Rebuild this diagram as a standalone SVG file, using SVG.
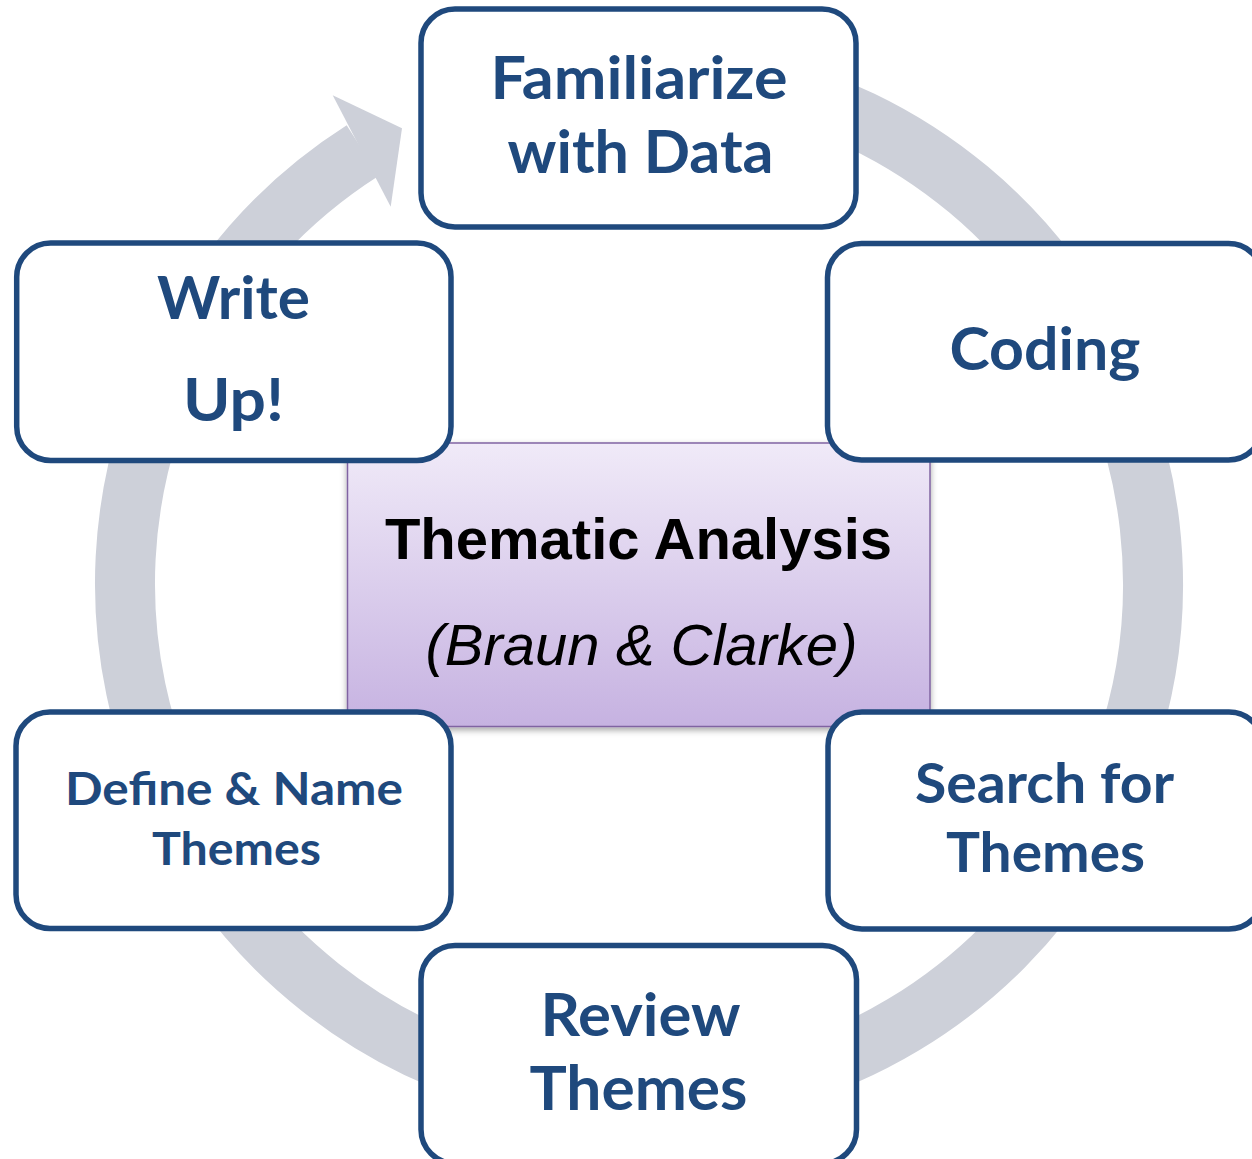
<svg xmlns="http://www.w3.org/2000/svg" width="1252" height="1159" viewBox="0 0 1252 1159">
  <style>
    .box { fill: #ffffff; stroke: #1f497d; stroke-width: 5.5; }
    .lbl { font-family: Lato, "Open Sans", "Liberation Sans", sans-serif; font-weight: bold; fill: #1f497d; text-anchor: middle; }
    .ctr { font-family: "Liberation Sans", Arial, sans-serif; fill: #000000; text-anchor: middle; font-size: 58px; }
  </style>
  <defs>
    <linearGradient id="purple" x1="0" y1="0" x2="0" y2="1">
      <stop offset="0" stop-color="#f0eaf8"/>
      <stop offset="1" stop-color="#c6b2e1"/>
    </linearGradient>
    <filter id="shadow" x="-5%" y="-5%" width="110%" height="115%">
      <feDropShadow dx="0" dy="3" stdDeviation="3" flood-color="#000000" flood-opacity="0.35"/>
    </filter>
  </defs>

  <g id="connectors">
    <path d="M 639 70 A 514 514 0 1 1 362.8 150.5" fill="none" stroke="#cdd0d9" stroke-width="60"/>
    <polygon points="332.7,95.3 402,128.3 390.7,206.7" fill="#cdd0d9"/>
  </g>

  <g id="center">
    <rect x="347.5" y="443" width="582.5" height="283.5" fill="url(#purple)" stroke="#8064a2" stroke-width="1.5" filter="url(#shadow)"/>
    <text class="ctr" x="638.5" y="559" font-weight="bold">Thematic Analysis</text>
    <text class="ctr" x="641.5" y="665" font-style="italic">(Braun &amp; Clarke)</text>
  </g>

  <g id="familiarize">
    <rect class="box" x="421" y="9" width="435" height="218" rx="34"/>
    <text class="lbl" x="639" y="99" font-size="59" textLength="297" lengthAdjust="spacingAndGlyphs">Familiarize</text>
    <text class="lbl" x="640.5" y="173" font-size="59" textLength="266" lengthAdjust="spacingAndGlyphs">with Data</text>
  </g>

  <g id="coding">
    <rect class="box" x="827.5" y="243.5" width="435" height="216.5" rx="34"/>
    <text class="lbl" x="1045" y="370" font-size="60" textLength="191" lengthAdjust="spacingAndGlyphs">Coding</text>
  </g>

  <g id="search">
    <rect class="box" x="828" y="712" width="435" height="217" rx="34"/>
    <text class="lbl" x="1044.5" y="803" font-size="55" textLength="259" lengthAdjust="spacingAndGlyphs">Search for</text>
    <text class="lbl" x="1045.5" y="872" font-size="56" textLength="199" lengthAdjust="spacingAndGlyphs">Themes</text>
  </g>

  <g id="review">
    <rect class="box" x="421" y="945.5" width="435.5" height="218" rx="34"/>
    <text class="lbl" x="640.5" y="1036" font-size="59" textLength="200" lengthAdjust="spacingAndGlyphs">Review</text>
    <text class="lbl" x="638.5" y="1110" font-size="62" textLength="218" lengthAdjust="spacingAndGlyphs">Themes</text>
  </g>

  <g id="define">
    <rect class="box" x="16" y="712" width="435" height="216.5" rx="34"/>
    <text class="lbl" x="234" y="805" font-size="45" textLength="338" lengthAdjust="spacingAndGlyphs">Define &amp; Name</text>
    <text class="lbl" x="236.5" y="865" font-size="46" textLength="169" lengthAdjust="spacingAndGlyphs">Themes</text>
  </g>

  <g id="write">
    <rect class="box" x="16.7" y="243" width="434.3" height="217.5" rx="34"/>
    <text class="lbl" x="233.5" y="319" font-size="60" textLength="153" lengthAdjust="spacingAndGlyphs">Write</text>
    <text class="lbl" x="233.5" y="421" font-size="60" textLength="101" lengthAdjust="spacingAndGlyphs">Up!</text>
  </g>
</svg>
